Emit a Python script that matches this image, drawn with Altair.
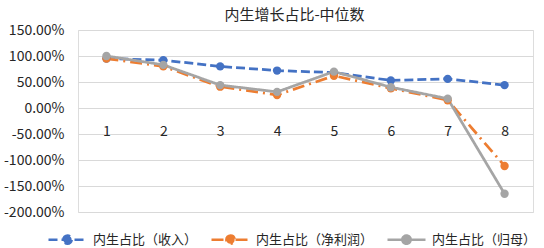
import altair as alt
import pandas as pd

periods = [1, 2, 3, 4, 5, 6, 7, 8]
series_names = ["内生占比（收入）", "内生占比（净利润）", "内生占比（归母）"]
revenue = [0.95, 0.92, 0.80, 0.72, 0.68, 0.53, 0.56, 0.44]
net_profit = [0.95, 0.80, 0.41, 0.25, 0.62, 0.38, 0.15, -1.115]
parent = [1.00, 0.83, 0.44, 0.31, 0.70, 0.40, 0.18, -1.65]
y_ticks = [-2.0, -1.5, -1.0, -0.5, 0.0, 0.5, 1.0, 1.5]
colors = ["#4472C4", "#ED7D31", "#A5A5A5"]
dashes = [[9, 4], [12, 5, 2, 5], [1, 0]]

rows = []
for name, vals in zip(series_names, [revenue, net_profit, parent]):
    for i, (p, v) in enumerate(zip(periods, vals)):
        rows.append({"period": str(p), "value": v, "series": name})
df = pd.DataFrame(rows)

FONT = "Noto Sans CJK SC"

x_enc = alt.X(
    "period:O",
    scale=alt.Scale(type="point", padding=0.5),
    sort=[str(p) for p in periods],
    axis=alt.Axis(
        title=None, domain=False, ticks=False, grid=False, labelAngle=0,
        offset=-104, labelPadding=16, labelFontSize=14, labelFont=FONT,
        labelColor="#262626",
    ),
)
y_enc = alt.Y(
    "value:Q",
    scale=alt.Scale(domain=[-2.0, 1.5], nice=False),
    axis=alt.Axis(
        title=None, values=y_ticks, domain=False, ticks=False,
        labelExpr="replace(format(datum.value, '.2%'), '\u2212', '-')",
        labelPadding=14, labelFontSize=14, labelFont=FONT, labelColor="#262626",
        gridColor="#D9D9D9", gridWidth=1,
    ),
)
color_scale = alt.Scale(domain=series_names, range=colors)
legend = alt.Legend(
    title=None, orient="none", direction="horizontal",
    legendX=-31, legendY=189,
    symbolType="M -1 0 L 1 0 M -0.22 0 A 0.22 0.22 0 1 1 0.22 0 A 0.22 0.22 0 1 1 -0.22 0",
    symbolSize=1444, symbolStrokeWidth=2.5,
    labelFont=FONT, labelFontSize=13, labelColor="#262626",
    labelOffset=5, columnPadding=8, labelLimit=300,
)

lines = alt.Chart(df).mark_line(strokeWidth=2.75).encode(
    x=x_enc,
    y=y_enc,
    color=alt.Color("series:N", scale=color_scale, sort=series_names, legend=legend),
    strokeDash=alt.StrokeDash(
        "series:N", scale=alt.Scale(domain=series_names, range=dashes),
        sort=series_names, legend=legend,
    ),
    order=alt.Order("period:O"),
)
points = alt.Chart(df).mark_point(filled=True, size=70, opacity=1).encode(
    x=x_enc,
    y=y_enc,
    color=alt.Color("series:N", scale=color_scale, sort=series_names, legend=legend),
)

chart = alt.layer(lines, points).properties(
    width=455,
    height=182,
    title=alt.TitleParams(
        "内生增长占比-中位数", font=FONT, fontSize=15, fontWeight="normal",
        color="#262626", offset=8, dx=-11, dy=8,
    ),
    autosize=alt.AutoSizeParams(type="none"),
    padding={"left": 78, "top": 30, "right": 11, "bottom": 36},
).configure_view(stroke=None).configure(background="white")

chart.save("out.html", embed_options={"renderer": "svg", "actions": False})
